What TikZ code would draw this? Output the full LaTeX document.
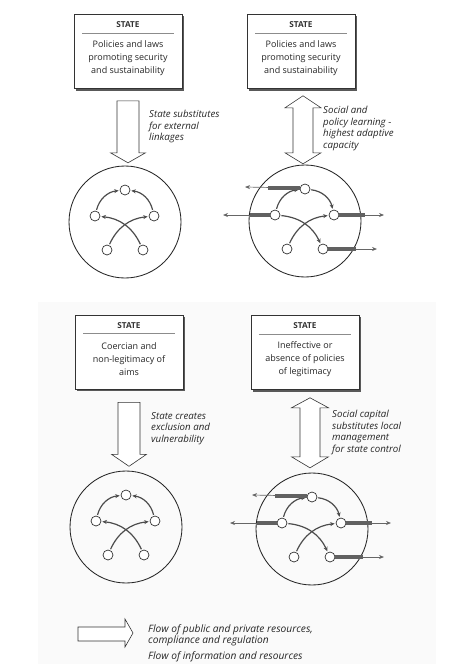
\documentclass[tikz,border=0pt]{standalone}
\usepackage{fontspec}
\setmainfont{Open Sans}
\usetikzlibrary{arrows.meta}

\tikzset{
  statebox/.style={draw=black!80, line width=0.6pt, fill=white,
    minimum width=108pt, minimum height=74pt},
  boxshadow/.style={draw=black!65, line width=1.4pt},
  headtxt/.style={font=\bfseries\fontsize{8.2}{9}\selectfont, text=black!80, inner sep=0pt},
  boxtxt/.style={font=\fontsize{9}{13}\selectfont, text=black!85, align=center, inner sep=0pt},
  lbl/.style={font=\itshape\fontsize{9.7}{11.5}\selectfont, text=black!85, align=left, inner sep=0pt, anchor=north west},
  blockarrow/.style={draw=black!80, line width=0.6pt, fill=white, line join=miter},
  ring/.style={circle, draw=black!85, line width=0.85pt, minimum size=112pt, inner sep=0pt},
  dot/.style={circle, draw=black!85, line width=0.65pt, fill=white, minimum size=10pt, inner sep=0pt},
  flow/.style={draw=black!70, line width=1.2pt, shorten <=1pt, shorten >=1pt,
    -{Stealth[length=4.5pt,width=4pt]}},
  outbar/.style={draw=black!62, line width=3.2pt},
  outarrow/.style={draw=black!60, line width=0.7pt, -{Stealth[length=5pt,width=4pt]}}
}

\begin{document}
\begin{tikzpicture}[x=1pt, y=-1pt]
  \useasboundingbox (0,0) rectangle (462,664);
  % faint paper tone of the lower half
  \fill[black!2] (38,302) rectangle (436,664);

  % state boxes
  \node[statebox] (st1) at (128,51.5) {};
  \node[statebox] (st2) at (301,51.5) {};
  \node[statebox] (st3) at (129,352) {};
  \node[statebox] (st4) at (305,352.5) {};
  \foreach \b in {st1,st2,st3,st4} {
    \draw[boxshadow] ([shift={(1.3,2)}]\b.north east) -- ([shift={(1.3,1.2)}]\b.south east)
      -- ([shift={(2,1.2)}]\b.south west);
    \node[headtxt] (\b h) at ([shift={(0,10.5)}]\b.north) {STATE};
    \draw[black!45, line width=0.5pt] ([shift={(-46,19)}]\b.north) -- ([shift={(46,19)}]\b.north);
  }
  \node[boxtxt] (st1t) at ([shift={(0,43.5)}]st1.north) {Policies and laws\\promoting security\\and sustainability};
  \node[boxtxt] (st2t) at ([shift={(0,43.5)}]st2.north) {Policies and laws\\promoting security\\and sustainability};
  \node[boxtxt] (st3t) at ([shift={(0,44)}]st3.north) {Coercian and\\non-legitimacy of\\aims};
  \node[boxtxt] (st4t) at ([shift={(0,44)}]st4.north) {Ineffective or\\absence of policies\\of legitimacy};

  % community rings
  \node[ring] (c1) at (125,222) {};
  \node[ring] (c2) at (305,221) {};
  \node[ring] (c3) at (126,527) {};
  \node[ring] (c4) at (312,529) {};
  \foreach \c in {c1,c2,c3,c4} {
    \node[dot] (\c t) at ([shift={(0,-32)}]\c.center) {};
    \node[dot] (\c l) at ([shift={(-30,-6)}]\c.center) {};
    \node[dot] (\c r) at ([shift={(29,-6)}]\c.center) {};
    \node[dot] (\c a) at ([shift={(-18,28)}]\c.center) {};
    \node[dot] (\c b) at ([shift={(18,28)}]\c.center) {};
  }

  % one-way links (left column)
  \foreach \c in {c1,c3} {
    \draw[flow] (\c l) to[bend left=35] (\c t);
    \draw[flow] (\c r) to[bend right=35] (\c t);
    \draw[flow] (\c a) to[bend left=30] (\c r);
    \draw[flow] (\c b) to[bend right=30] (\c l);
  }

  % open links (right column)
  \foreach \c in {c2,c4} {
    \draw[flow] (\c l) to[bend left=35] (\c t);
    \draw[flow] (\c t) to[bend left=35] (\c r);
    \draw[flow] (\c a) to[bend left=30] (\c r);
    \draw[flow] (\c l) to[bend left=30] (\c b);
    % flows leaving the community
    \coordinate (\c e1) at ([shift={(-60,-2)}]\c t.center);
    \coordinate (\c e2) at ([shift={(-52,0)}]\c l.center);
    \coordinate (\c e3) at ([shift={(50,0)}]\c r.center);
    \coordinate (\c e4) at ([shift={(54,0)}]\c b.center);
    \draw[outarrow] ([yshift=1pt]\c t.west) -- (\c e1);
    \draw[outbar] ([yshift=1pt]\c t.west) -- ++(-32,0);
    \draw[outarrow] (\c l.west) -- (\c e2);
    \draw[outbar] (\c l.west) -- ++(-20,0);
    \draw[outarrow] (\c r.east) -- (\c e3);
    \draw[outbar] (\c r.east) -- ++(26,0);
    \draw[outarrow] (\c b.east) -- (\c e4);
    \draw[outbar] (\c b.east) -- ++(28,0);
  }

  % block arrows state -> community
  \draw[blockarrow] ([shift={(-11,12)}]st1.south) -- ++(22,0) -- ++(0,52) -- ++(6.5,0)
    -- ++(-17.5,10) -- ++(-17.5,-10) -- ++(6.5,0) -- cycle;
  \draw[blockarrow] ([shift={(-11,13)}]st3.south) -- ++(22,0) -- ++(0,52) -- ++(6.5,0)
    -- ++(-17.5,12) -- ++(-17.5,-12) -- ++(6.5,0) -- cycle;

  % double block arrows
  \draw[blockarrow] ([shift={(2,7)}]st2.south) -- ++(18,12) -- ++(-8,0) -- ++(0,45)
    -- ++(8,0) -- ++(-18,11) -- ++(-18,-11) -- ++(8,0) -- ++(0,-45) -- ++(-8,0) -- cycle;
  \draw[blockarrow] ([shift={(5,8)}]st4.south) -- ++(18.5,10) -- ++(-8.5,0) -- ++(0,49)
    -- ++(8.5,0) -- ++(-18.5,11) -- ++(-18.5,-11) -- ++(8.5,0) -- ++(0,-49) -- ++(-8.5,0) -- cycle;

  % labels
  \node[lbl] (l1) at (149,110) {State substitutes\\for external\\linkages};
  \node[lbl] (l2) at (323,106) {Social and\\policy learning -\\highest adaptive\\capacity};
  \node[lbl] (l3) at (151,412) {State creates\\exclusion and\\vulnerability};
  \node[lbl] (l4) at (332,410) {Social capital\\substitutes local\\management\\for state control};

  % legend
  \draw[blockarrow] (78,627) -- (125,627) -- (125,619) -- (133,633) -- (125,647)
    -- (125,641) -- (78,641) -- cycle;
  \node[lbl, font=\itshape\fontsize{10.2}{11}\selectfont] (k1) at (148,624) {Flow of public and private resources,\\compliance and regulation};
  \node[lbl, anchor=base west, font=\itshape\fontsize{10.2}{11}\selectfont] (k2) at (148,659) {Flow of information and resources};
\end{tikzpicture}
\end{document}
